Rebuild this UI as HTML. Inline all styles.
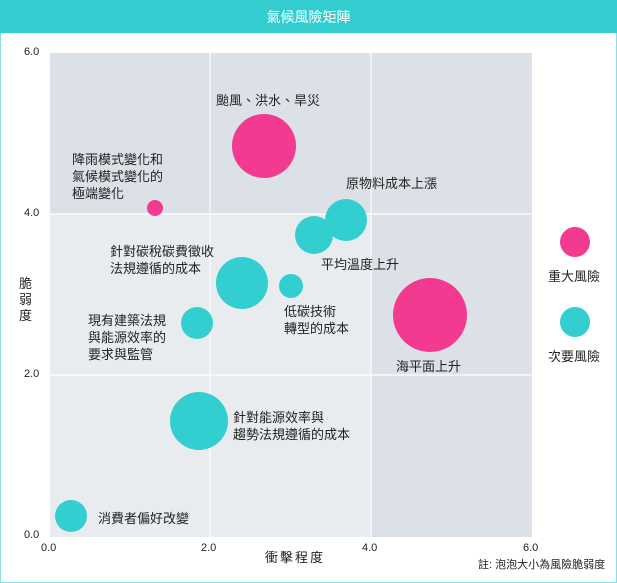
<!DOCTYPE html>
<html><head><meta charset="utf-8"><style>
body{margin:0;width:617px;height:583px;overflow:hidden;background:#fff;font-family:"Liberation Sans","Noto Sans CJK TC",sans-serif;}
.frame{position:absolute;left:0;top:0;width:615px;height:581px;border:1px solid #8adfe0;}
.hdr{position:absolute;left:0;top:0;width:617px;height:33px;background:#33cdd0;color:#fff;font-size:14px;text-align:center;line-height:34px;}
.t{position:absolute;font-size:13px;color:#222;line-height:17px;white-space:nowrap;}
.ax{position:absolute;font-size:11px;color:#222;font-family:"Liberation Sans",sans-serif;}
.c{position:absolute;border-radius:50%;}
.p{background:#f23a91}.q{background:#33cfd0}
</style></head><body>
<div class="frame"></div>
<div class="hdr">氣候風險矩陣</div>
<svg style="position:absolute;left:0;top:0" width="617" height="583">
<rect x="50" y="53" width="482" height="484" fill="#e8ecef"/>
<rect x="50" y="53" width="482" height="161" fill="#dbe1e7"/>
<rect x="371" y="53" width="161" height="484" fill="#dbe1e7"/>
<g stroke="#fff" stroke-width="1.2"><line x1="210" y1="53" x2="210" y2="537"/><line x1="371" y1="53" x2="371" y2="537"/><line x1="50" y1="214" x2="532" y2="214"/><line x1="50" y1="375" x2="532" y2="375"/></g>
</svg>
<div class="ax" style="left:24px;top:46px">6.0</div>
<div class="ax" style="left:24px;top:207px">4.0</div>
<div class="ax" style="left:24px;top:368px">2.0</div>
<div class="ax" style="left:24px;top:529px">0.0</div>
<div class="ax" style="left:41px;top:542px">0.0</div>
<div class="ax" style="left:201px;top:542px">2.0</div>
<div class="ax" style="left:362px;top:542px">4.0</div>
<div class="ax" style="left:523px;top:542px">6.0</div>
<div class="t" style="left:265px;top:549px;letter-spacing:2px">衝擊程度</div>
<div class="t" style="left:19px;top:276px;width:14px;white-space:normal;line-height:16px">脆弱度</div>
<div class="t" style="left:478px;top:557px;font-size:11px">註: 泡泡大小為風險脆弱度</div>
<div class="c p" style="left:232px;top:114px;width:64px;height:64px"></div>
<div class="c p" style="left:147px;top:200px;width:16px;height:16px"></div>
<div class="c q" style="left:325px;top:199px;width:42px;height:42px"></div>
<div class="c q" style="left:295px;top:216px;width:38px;height:38px"></div>
<div class="c q" style="left:216px;top:257px;width:52px;height:52px"></div>
<div class="c q" style="left:279px;top:274px;width:24px;height:24px"></div>
<div class="c p" style="left:393px;top:278px;width:74px;height:74px"></div>
<div class="c q" style="left:181px;top:307px;width:32px;height:32px"></div>
<div class="c q" style="left:170px;top:392px;width:58px;height:58px"></div>
<div class="c q" style="left:55px;top:500px;width:32px;height:32px"></div>
<div class="c p" style="left:560px;top:227px;width:30px;height:30px"></div>
<div class="c q" style="left:560px;top:307px;width:30px;height:30px"></div>
<div class="t" style="left:216px;top:92px">颱風、洪水、旱災</div>
<div class="t" style="left:72px;top:151px">降雨模式變化和<br>氣候模式變化的<br>極端變化</div>
<div class="t" style="left:346px;top:175px">原物料成本上漲</div>
<div class="t" style="left:110px;top:243px">針對碳稅碳費徵收<br>法規遵循的成本</div>
<div class="t" style="left:321px;top:256px">平均溫度上升</div>
<div class="t" style="left:284px;top:303px">低碳技術<br>轉型的成本</div>
<div class="t" style="left:88px;top:312px">現有建築法規<br>與能源效率的<br>要求與監管</div>
<div class="t" style="left:396px;top:358px">海平面上升</div>
<div class="t" style="left:233px;top:409px">針對能源效率與<br>趨勢法規遵循的成本</div>
<div class="t" style="left:98px;top:510px">消費者偏好改變</div>
<div class="t" style="left:548px;top:268px">重大風險</div>
<div class="t" style="left:548px;top:348px">次要風險</div>
</body></html>
